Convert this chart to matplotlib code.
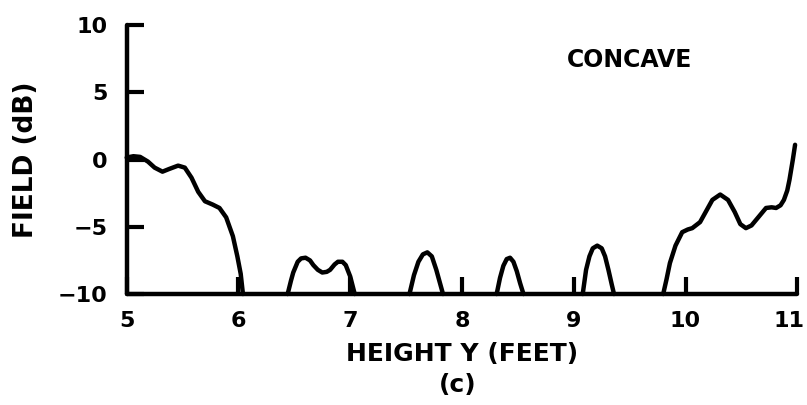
import numpy as np
import matplotlib.pyplot as plt
import matplotlib.transforms as mtransforms

# curve pieces (height in feet, field in dB)
seg1_x = [5.00, 5.06, 5.12, 5.19, 5.25, 5.32, 5.38, 5.46, 5.52, 5.58, 5.64, 5.70, 5.77, 5.83, 5.89, 5.95, 5.99, 6.02, 6.04]
seg1_y = [0.15, 0.25, 0.2, -0.15, -0.6, -0.9, -0.7, -0.45, -0.6, -1.35, -2.4, -3.1, -3.35, -3.6, -4.3, -5.7, -7.2, -8.5, -10.0]

seg2_x = [6.44, 6.47, 6.49, 6.53, 6.56, 6.60, 6.64, 6.67, 6.71, 6.75, 6.79, 6.82, 6.86, 6.89, 6.93, 6.96, 7.00, 7.04]
seg2_y = [-10.0, -9.0, -8.4, -7.6, -7.35, -7.3, -7.5, -7.85, -8.2, -8.4, -8.35, -8.2, -7.8, -7.6, -7.6, -7.85, -8.7, -10.0]

seg3_x = [7.53, 7.57, 7.61, 7.65, 7.69, 7.73, 7.77, 7.80, 7.83]
seg3_y = [-10.0, -8.6, -7.6, -7.05, -6.9, -7.2, -8.2, -9.1, -10.0]

seg4_x = [8.31, 8.34, 8.37, 8.40, 8.43, 8.46, 8.49, 8.52, 8.55]
seg4_y = [-10.0, -8.8, -7.9, -7.4, -7.3, -7.6, -8.3, -9.2, -10.0]

seg5_x = [9.08, 9.11, 9.14, 9.17, 9.21, 9.25, 9.28, 9.31, 9.34, 9.36]
seg5_y = [-10.0, -8.2, -7.2, -6.6, -6.4, -6.6, -7.2, -8.2, -9.3, -10.0]

seg6_x = [9.80, 9.83, 9.86, 9.91, 9.97, 10.02, 10.06, 10.13, 10.18, 10.24, 10.31, 10.38, 10.44, 10.49, 10.54,
          10.59, 10.65, 10.72, 10.77, 10.81, 10.85, 10.88, 10.91, 10.93, 10.96, 10.98]
seg6_y = [-10.0, -8.9, -7.7, -6.4, -5.4, -5.2, -5.1, -4.65, -3.9, -3.0, -2.6, -3.0, -3.9, -4.8, -5.1,
          -4.9, -4.3, -3.6, -3.55, -3.6, -3.4, -3.0, -2.3, -1.5, 0.0, 1.1]

segments = [(seg1_x, seg1_y), (seg2_x, seg2_y), (seg3_x, seg3_y),
            (seg4_x, seg4_y), (seg5_x, seg5_y), (seg6_x, seg6_y)]

x_ticks = [5, 6, 7, 8, 9, 10, 11]
x_labels = ['5', '6', '7', '8', '9', '10', '11']
y_ticks = [-10, -5, 0, 5, 10]
y_labels = ['\u221210', '\u22125', '0', '5', '10']

plt.rcParams['font.family'] = ['DejaVu Sans']
plt.rcParams['font.weight'] = 'bold'

fig = plt.figure(figsize=(8.07, 4.05), dpi=100)
ax = fig.add_axes([0.157, 0.274, 0.831, 0.664])

for xs, ys in segments:
    ax.plot(xs, ys, color='black', lw=3.2, solid_capstyle='round',
            solid_joinstyle='round', clip_on=False)

ax.set_xlim(5, 11)
ax.set_ylim(-10, 10)
for side in ['top', 'right']:
    ax.spines[side].set_visible(False)
for side in ['left', 'bottom']:
    ax.spines[side].set_linewidth(3.2)
    ax.spines[side].set_capstyle('round')

ax.set_xticks(x_ticks)
ax.set_xticklabels(x_labels, fontsize=16, fontweight='bold')
ax.set_yticks(y_ticks)
ax.set_yticklabels(y_labels, fontsize=16, fontweight='bold')
ax.tick_params(axis='x', direction='in', length=12, width=3, pad=12)
ax.tick_params(axis='y', direction='in', length=12, width=3, pad=14)

# the last x label sits at the right edge of the figure; nudge it left
lab11 = ax.get_xticklabels()[-1]
lab11.set_transform(lab11.get_transform() +
                    mtransforms.ScaledTranslation(-8 / 100, 0, fig.dpi_scale_trans))

ax.set_xlabel('HEIGHT Y (FEET)', fontsize=18, fontweight='bold', labelpad=8)
ax.set_ylabel('FIELD (dB)', fontsize=19, fontweight='bold', labelpad=13)
ax.text(0.75, 0.87, 'CONCAVE', transform=ax.transAxes, fontsize=17,
        fontweight='bold', ha='center', va='center')
fig.text(0.567, 0.05, '(c)', fontsize=18, fontweight='bold', ha='center', va='center')

fig.savefig('out.png', dpi=100, facecolor='white')
